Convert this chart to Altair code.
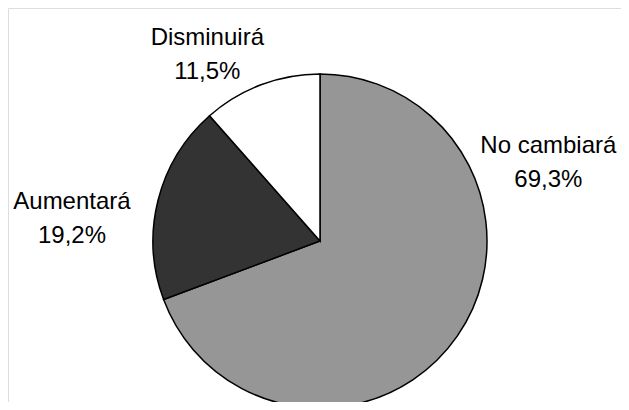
import altair as alt
import pandas as pd

categories = ["No cambiará", "Aumentará", "Disminuirá"]
values = [69.3, 19.2, 11.5]
colors = ["#969696", "#333333", "#ffffff"]

labels = [f"{c}\n{v:.1f}%".replace(".", ",") for c, v in zip(categories, values)]
df = pd.DataFrame({"cat": categories, "val": values, "idx": list(range(len(categories))), "label": labels})

CX, CY, R = 312, 233, 167
theta_scale = alt.Scale(domain=[0, 100], range=[0, 6.283185307])

base = alt.Chart(df)

arcs = base.mark_arc(stroke="black", strokeWidth=1.5, radius=R).encode(
    theta=alt.Theta("val:Q", stack=True, scale=theta_scale),
    color=alt.Color("cat:N", scale=alt.Scale(domain=categories, range=colors), legend=None),
    order=alt.Order("idx:Q"),
    x=alt.value(CX),
    y=alt.value(CY),
)

offsets = {
    "No cambiará": (64, -209),
    "Aumentará": (-54, 10),
    "Disminuirá": (-42, -16),
}

text_layers = []
for c in categories:
    dx, dy = offsets[c]
    t = base.transform_window(
        cum="sum(val)", sort=[alt.SortField("idx")]
    ).transform_calculate(
        mid="datum.cum - datum.val / 2"
    ).transform_filter(
        alt.datum.cat == c
    ).mark_text(
        font="Liberation Sans", fontSize=24, lineBreak="\n", lineHeight=34,
        align="center", baseline="middle", color="black", dx=dx, dy=dy, radius=200,
    ).encode(
        theta=alt.Theta("mid:Q", stack=False, scale=theta_scale),
        text="label:N",
        x=alt.value(CX),
        y=alt.value(CY),
    )
    text_layers.append(t)

chart = alt.layer(arcs, *text_layers).properties(
    width=613, height=394, autosize="none", padding=0
).configure_view(strokeWidth=0, stroke="transparent").configure(background="white")

chart.save("out.html", embed_options={"renderer": "svg", "actions": False})
